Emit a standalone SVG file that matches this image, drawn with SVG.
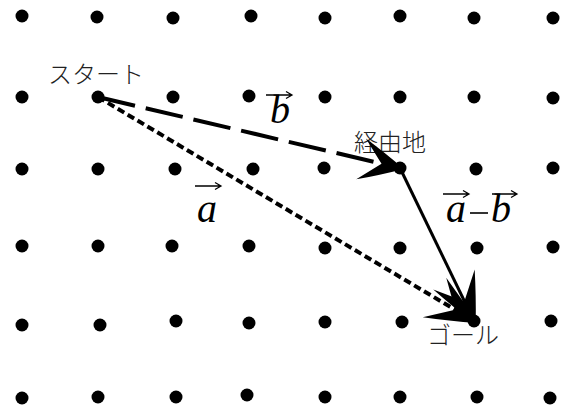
<svg xmlns="http://www.w3.org/2000/svg" width="566" height="409" viewBox="0 0 566 409">
<style>
.dot{fill:#000}
.jp{font-family:"Noto Sans CJK JP","Noto Sans CJK SC",sans-serif;font-size:24px;font-weight:300;fill:#222}
.m{font-family:"Liberation Serif",serif;font-style:italic;font-size:40px;fill:#000}
.va{fill:none;stroke:#000;stroke-width:1.3}
</style>
<defs>
<marker id="head" markerUnits="userSpaceOnUse" viewBox="-55 -30 62 60" markerWidth="62" markerHeight="60" refX="0" refY="0" orient="auto">
<path d="M4,0 Q-22,-13 -46,-23 L-22,0 L-46,23 Q-22,13 4,0 Z" fill="#000"/>
</marker>
<marker id="headb" markerUnits="userSpaceOnUse" viewBox="-55 -30 62 60" markerWidth="62" markerHeight="60" refX="0" refY="0" orient="auto">
<path d="M4,0 Q-19,-12 -40,-21 L-19,0 L-40,21 Q-19,12 4,0 Z" fill="#000"/>
</marker>
</defs>
<g id="grid">
<circle class="dot" cx="22" cy="16" r="6.5"/><circle class="dot" cx="97" cy="17" r="6.5"/><circle class="dot" cx="173" cy="18" r="6.5"/><circle class="dot" cx="251" cy="16" r="6.5"/><circle class="dot" cx="325" cy="18" r="6.5"/><circle class="dot" cx="400" cy="16" r="6.5"/><circle class="dot" cx="474" cy="18" r="6.5"/><circle class="dot" cx="553" cy="18" r="6.5"/>
<circle class="dot" cx="22" cy="97" r="6.5"/><circle class="dot" cx="173" cy="97" r="6.5"/><circle class="dot" cx="249" cy="96" r="6.5"/><circle class="dot" cx="325" cy="97" r="6.5"/><circle class="dot" cx="400" cy="97" r="6.5"/><circle class="dot" cx="474" cy="97" r="6.5"/><circle class="dot" cx="553" cy="98" r="6.5"/>
<circle class="dot" cx="22" cy="169" r="6.5"/><circle class="dot" cx="98" cy="169" r="6.5"/><circle class="dot" cx="175" cy="169" r="6.5"/><circle class="dot" cx="253" cy="169" r="6.5"/><circle class="dot" cx="324" cy="168" r="6.5"/><circle class="dot" cx="476" cy="169" r="6.5"/><circle class="dot" cx="553" cy="168" r="6.5"/>
<circle class="dot" cx="22" cy="246" r="6.5"/><circle class="dot" cx="98" cy="246" r="6.5"/><circle class="dot" cx="172" cy="246" r="6.5"/><circle class="dot" cx="249" cy="246" r="6.5"/><circle class="dot" cx="325" cy="248" r="6.5"/><circle class="dot" cx="400" cy="248" r="6.5"/><circle class="dot" cx="477" cy="248" r="6.5"/><circle class="dot" cx="553" cy="247" r="6.5"/>
<circle class="dot" cx="22" cy="325" r="6.5"/><circle class="dot" cx="100" cy="325" r="6.5"/><circle class="dot" cx="176" cy="321" r="6.5"/><circle class="dot" cx="249" cy="323" r="6.5"/><circle class="dot" cx="325" cy="322" r="6.5"/><circle class="dot" cx="402" cy="322" r="6.5"/><circle class="dot" cx="551" cy="321" r="6.5"/>
<circle class="dot" cx="22" cy="398" r="6.5"/><circle class="dot" cx="98" cy="397" r="6.5"/><circle class="dot" cx="176" cy="397" r="6.5"/><circle class="dot" cx="247" cy="395" r="6.5"/><circle class="dot" cx="325" cy="397" r="6.5"/><circle class="dot" cx="400" cy="397" r="6.5"/><circle class="dot" cx="477" cy="397" r="6.5"/><circle class="dot" cx="550" cy="398" r="6.5"/>
</g>
<g id="start"><circle class="dot" cx="98" cy="97" r="6.5"/><text class="jp" x="48" y="83">スタート</text></g>
<g id="waypoint"><circle class="dot" cx="400" cy="168" r="6.5"/><text class="jp" x="354" y="151">経由地</text></g>
<g id="goal"><circle class="dot" cx="474" cy="321" r="6.5"/><text class="jp" x="427" y="344">ゴール</text></g>
<g id="connectors">
<line x1="98" y1="97" x2="474" y2="321" stroke="#000" stroke-width="4" stroke-dasharray="7.5 4" marker-end="url(#head)"/>
<line x1="98" y1="97" x2="400" y2="168" stroke="#000" stroke-width="4" stroke-dasharray="38 11" marker-end="url(#headb)"/>
<line x1="400" y1="168" x2="474" y2="321" stroke="#000" stroke-width="3" marker-end="url(#head)"/>
</g>
<g id="labels">
<text class="m" x="270" y="123">b</text>
<path class="va" d="M266,95 H292 M286,91.5 L292,95 L286,98.5"/>
<text class="m" x="197" y="222">a</text>
<path class="va" d="M195,186 H221 M215,182.5 L221,186 L215,189.5"/>
<text class="m" x="446" y="222">a</text>
<line x1="470" y1="213" x2="488" y2="213" stroke="#000" stroke-width="1.6"/>
<text class="m" x="491" y="222">b</text>
<path class="va" d="M443,194 H469 M463,190.5 L469,194 L463,197.5"/>
<path class="va" d="M492,194 H517 M511,190.5 L517,194 L511,197.5"/>
</g>
</svg>
